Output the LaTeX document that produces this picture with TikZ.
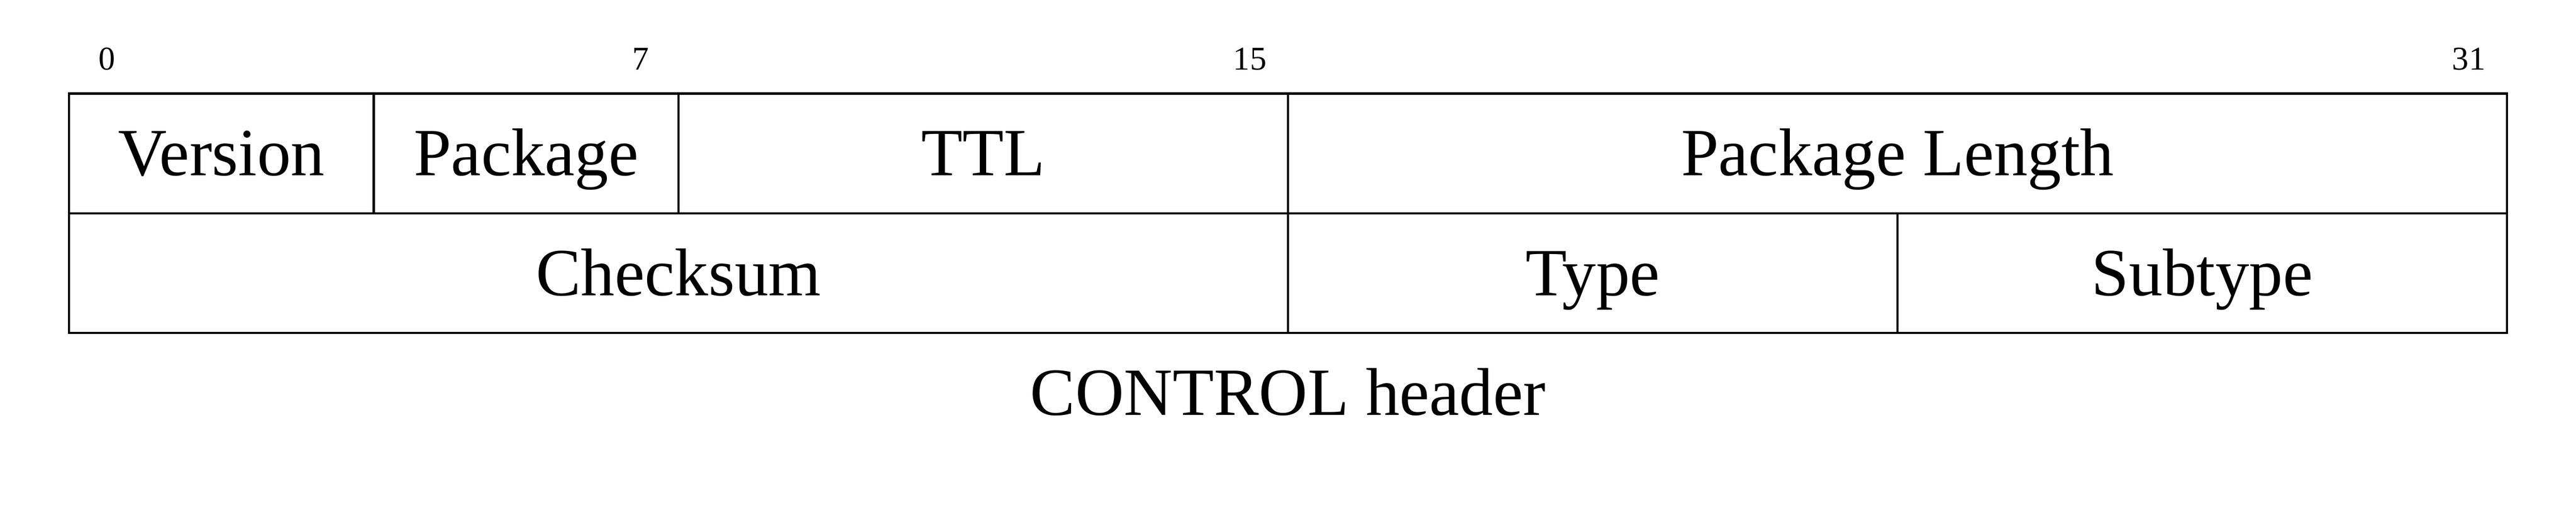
\documentclass[tikz,border=0pt]{standalone}
\usepackage{fontspec}
\setmainfont{Liberation Serif}
\usetikzlibrary{positioning}

\begin{document}
\begin{tikzpicture}[
  node distance=0pt,
  field/.style={rectangle, draw=black, line width=0.45pt,
                inner sep=0pt, outer sep=0pt, minimum height=0.785cm,
                font=\fontsize{12.6}{14}\selectfont,
                text height=8.3pt, text depth=0pt, text centered},
  bitno/.style={font=\fontsize{6.2}{7}\selectfont, anchor=base},
  title/.style={font=\fontsize{12.6}{14}\selectfont, anchor=base}]
  \useasboundingbox (-0.4535,-2.7955) rectangle (16.4535,0.6145);
  % first word
  \node[field, minimum width=2cm, anchor=north west] (VER) at (0,0) {Version};
  \node[field, minimum width=2cm, right=of VER] (PKG) {Package};
  \node[field, minimum width=4cm, right=of PKG] (TTL) {TTL};
  \node[field, minimum width=8cm, right=of TTL] (LEN) {Package Length};
  % second word
  \node[field, minimum width=8cm, anchor=north west] (CHK) at (VER.south west) {Checksum};
  \node[field, minimum width=4cm, right=of CHK] (TYP) {Type};
  \node[field, minimum width=4cm, right=of TYP] (SUB) {Subtype};
  % bit numbers
  \foreach \b in {0,7,15,31}
    \node[bitno] (B\b) at ({(\b+0.5)*0.5},0.1575) {\b};
  \node[title] (CAP) at (8,-2.109) {CONTROL header};
\end{tikzpicture}
\end{document}
